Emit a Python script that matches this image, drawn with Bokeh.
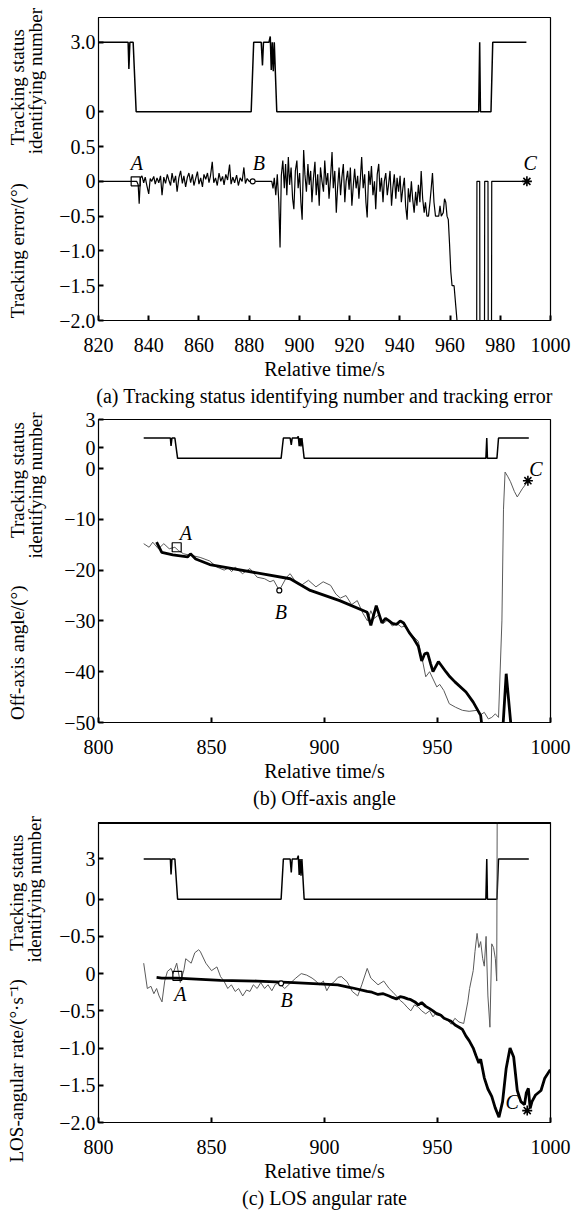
import math
from bokeh.plotting import figure
from bokeh.models import Range1d, FixedTicker, Label, Title, Span
from bokeh.layouts import column
from bokeh.embed import file_html
from bokeh.resources import INLINE

FONT = "Liberation Serif"
NB = "\u00a0"

# ---------------- data ----------------
status_t = [820, 831.8, 832.1, 832.5, 833.8, 835.0, 880.8, 881.8, 884.8, 885.3, 885.7,
            887.9, 888.4, 888.8, 889.2, 889.6, 890.0, 891.0, 971.4, 971.8, 972.1,
            976.3, 977.0, 990.4]
status_v = [3, 3, 1.85, 3, 3, 0, 0, 3, 3, 2.0, 3,
            3, 3.25, 1.8, 3, 1.75, 3, 0, 0, 3, 0,
            0, 3, 3]

err_t = [820, 834.5, 835.2, 835.8, 836.2, 836.7, 837.3, 838, 838.6, 839.2, 840, 840.6, 841.2,
         842, 842.6, 843.3, 844, 844.7, 845.3, 846, 846.7, 847.4, 848, 848.7, 849.3, 850,
         850.7, 851.3, 852, 852.7, 853.4, 854, 854.7, 855.4, 856, 856.7, 857.4, 858, 858.7,
         859.4, 860, 860.7, 861.4, 862, 862.7, 863.4, 864, 864.6, 865.3, 865.9, 866.6, 867.3,
         868, 868.7, 869.4, 870, 870.7, 871.4, 872.2, 872.8, 873.5, 874.2, 875, 875.7, 876.4,
         877.2, 877.9, 878.5, 879.2, 880, 881.4, 889,
         889.5, 890, 890.6, 891.2, 891.8, 892.3, 892.8, 893.4, 894, 894.5, 895, 895.6, 896.1,
         896.7, 897.3, 897.8, 898.4, 899, 899.5, 900.1, 900.6, 901.1, 901.7, 902.2, 902.8,
         903.4, 903.9, 904.5, 905, 905.6, 906.2, 906.7, 907.3, 907.9, 908.4, 909, 909.6,
         910.1, 910.7, 911.3, 911.8, 912.4, 913, 913.5, 914.1, 914.7, 915.2, 915.8, 916.4,
         916.9, 917.5, 918.1, 918.6, 919.2, 919.8, 920.3, 920.9, 921.5, 922, 922.6, 923.2,
         923.7, 924.3, 924.8, 925.4, 926, 926.5, 927, 927.6, 928.2, 928.7, 929.3, 929.9,
         930.4, 931, 931.6, 932.1, 932.7, 933.3, 933.8, 934.4, 935, 935.5, 936.1, 936.7,
         937.2, 937.8, 938.4, 938.9, 939.5, 940.1, 940.6, 941.2, 941.8, 942.3, 942.9, 943.4,
         944, 944.6, 945.1, 945.7, 946.3, 946.8, 947.4, 948, 948.5, 949.1, 949.7, 950.2,
         950.8, 951.4, 952, 952.5, 953, 953.6, 954.2, 955.5, 956, 956.5, 957.3, 957.8,
         958.3, 958.8, 959.3, 959.8, 960.3, 960.8, 961.6, 962.3, 963, 964,
         970.6, 970.7, 971.8, 971.9, 973.7, 973.8, 975.1, 975.2, 976.5, 976.6, 990.6]
err_v = [0, 0, 0.0, -0.05, -0.32, 0.05, 0.08, -0.02, 0.06, -0.05, -0.18, 0.04, 0.0,
         0.07, -0.04, 0.05, -0.02, 0.08, -0.2, 0.06, -0.03, 0.1, 0.02, -0.06, 0.12, -0.02,
         0.08, -0.15, 0.05, 0.15, -0.03, 0.08, -0.08, 0.06, 0.12, -0.02, 0.1, -0.06, 0.04,
         0.14, -0.04, 0.05, -0.08, 0.1, 0.03, 0.12, -0.02, 0.08, 0.28, -0.02, 0.05, -0.06,
         0.12, 0.0, 0.07, -0.05, 0.1, 0.02, 0.24, -0.04, 0.06, -0.02, 0.09, -0.06, 0.05,
         0.0, 0.2, -0.03, 0.04, 0.0, 0.0, 0.0,
         -0.1, 0.05, -0.2, 0.1, -0.3, -0.95, 0.08, 0.3, -0.1, 0.25, -0.2, 0.35, -0.05,
         0.2, -0.25, -0.4, 0.15, 0.3, -0.1, 0.12, -0.3, -0.55, 0.45, 0.1, -0.15,
         0.25, -0.05, 0.15, -0.3, 0.05, 0.28, -0.2, 0.1, -0.35, 0.2, 0.0, -0.15,
         0.3, -0.05, 0.12, -0.25, 0.05, 0.42, -0.1, 0.15, -0.45, -0.1, 0.2, -0.2,
         0.05, 0.25, -0.3, 0.0, 0.15, -0.12, 0.2, -0.35, -0.05, 0.18, -0.1, 0.08,
         -0.25, 0.05, 0.35, -0.1, 0.1, -0.3, -0.52, 0.15, -0.05, 0.22, -0.2, 0.0,
         -0.4, 0.1, 0.25, -0.15, 0.05, -0.3, 0.0, 0.12, -0.2, -0.05, 0.15, -0.35,
         -0.1, 0.1, -0.25, 0.05, -0.15, 0.08, -0.3, -0.1, 0.05, -0.35, -0.55, -0.1,
         -0.3, 0.0, -0.25, -0.45, -0.15, -0.35, -0.05, -0.3, 0.15, -0.25, -0.45, -0.3,
         -0.5, -0.5, -0.3, -0.1, 0.12, -0.3, -0.5, -0.5, -0.35, -0.5, -0.45, -0.25,
         -0.3, -0.5, -0.55, -0.9, -1.3, -1.5, -1.5, -1.8, -2.1, -2.4,
         -2.4, 0, 0, -2.4, -2.4, 0, 0, -2.4, -2.4, 0, 0]

off_thin_t = [820, 822.4, 824, 826.5, 828.9, 831.3, 833.8, 835.5, 837.7, 841, 845, 849.2,
              852.4, 855.6, 857.5, 858.9, 860.5, 863.7, 867, 870.2, 873.5, 875.9, 877.5,
              880, 883.2, 884.8, 887.2, 889.7, 892.9, 896.2, 899.4, 902.7, 905, 907, 909.5,
              912, 914.5, 917, 919, 920.5, 922, 924, 926, 928, 930, 932, 934, 936, 938,
              941.5, 943, 944.8, 946.5, 949.7, 951, 952.8, 955.2, 958, 961, 964, 967.5,
              969, 970.7, 972.5, 974, 975.6, 977, 978.5, 979.2, 979.9, 981, 982.3, 984,
              985.3, 987.5, 990]
off_thin_v = [-14.8, -15.5, -14.5, -15.8, -14.8, -15.8, -15.5, -16.2, -16.8, -17.1, -17.5, -18.2,
              -19.4, -20, -19.6, -20.3, -19.4, -20.7, -19.7, -21.4, -21.7, -22.3, -22,
              -24, -21.4, -20.7, -22.3, -23, -22, -23.3, -22.3, -23, -24.7, -25.5, -25,
              -26.8, -26, -28.5, -30, -28, -29.5, -28.8, -30.5, -29.8, -31, -30.5, -31.2, -31, -32.5,
              -34, -37, -41, -40, -43, -42.5, -43.7, -46.3, -47, -47.6, -47.8, -47.6,
              -48.5, -48, -49.3, -49, -48.3, -49, -30, -8, -0.7, -1.5, -2.6, -4.5,
              -5.6, -4, -2.5]

off_thick_t = [825.7, 828, 832.9, 839.4, 840.7, 843, 849.2, 884.8, 893.7, 906.7, 918.9,
               920.5, 922.9, 925.4, 927, 928.6, 930, 931.8, 933.5, 935, 937.5, 939.5,
               941.5, 943, 944.3, 945.6, 947, 948, 950.4, 953.7, 955.5, 957.7, 962.6,
               965.8, 969.1, 970, 978.8, 980.4, 982.8]
off_thick_v = [-14.5, -16.5, -17, -17.4, -16.8, -17.8, -18.9, -21.7, -24, -26, -28.3,
               -30.9, -27, -30.4, -29.5, -30, -30.5, -30.7, -30, -30.4, -32.3, -33.5,
               -35, -37.9, -36.5, -36.3, -38.5, -40, -38, -40, -41, -42, -44,
               -46, -48.6, -52, -52, -40.4, -52]

los_thin_t = [820, 821.6, 823.2, 824.5, 825.7, 826.8, 828.1, 829.3, 830.5, 832.1, 833,
              834.6, 836.2, 837.8, 838.6, 841, 842.6, 844.3, 845, 847.5, 850, 852.4, 854,
              855.5, 857.2, 858.8, 860.5, 862, 863.8, 865.5, 867, 868.5, 870.2, 871.8,
              873.5, 875, 876.7, 878.3, 880, 882.4, 884.8, 887.3, 889.7, 892.1, 894.5,
              896.2, 897.8, 899.5, 901, 902.5, 904.3, 906, 907.5, 910, 912.3, 914.7,
              916.5, 918.9, 920.5, 923.7, 926.2, 928.6, 930.3, 931.8, 933.5, 935.1,
              936.5, 938.2, 939.8, 941.5, 943, 944.8, 946.5, 948, 949.6, 951.3, 953,
              954.5, 956.1, 957.7, 959.5, 961.6, 963.4, 964.2, 965.8, 966.6, 967.5,
              968.3, 969.1, 970, 970.7, 971.5, 972.3, 973.2, 974, 974.8, 975.6, 976.2,
              976.5]
los_thin_v = [0.14, -0.2, -0.17, -0.27, -0.2, -0.3, -0.38, -0.1, 0.03, 0.07, 0.0,
              0.14, -0.12, 0.05, 0.2, 0.14, 0.28, 0.32, 0.3, 0.14, 0.04, 0.09, -0.04,
              -0.1, -0.2, -0.15, -0.24, -0.2, -0.3, -0.22, -0.24, -0.15, -0.2, -0.12,
              -0.2, -0.15, -0.23, -0.14, -0.13, -0.2, -0.13, -0.06, 0.0, -0.02, -0.06,
              -0.1, -0.15, -0.1, -0.23, -0.15, -0.11, -0.05, -0.04, -0.11, -0.24, -0.3,
              -0.15, 0.07, -0.06, -0.15, -0.1, -0.2, -0.25, -0.3, -0.36, -0.4,
              -0.45, -0.5, -0.42, -0.45, -0.5, -0.54, -0.5, -0.58, -0.52, -0.54, -0.6,
              -0.63, -0.68, -0.6, -0.65, -0.67, -0.38, -0.2, 0.04, 0.3, 0.54,
              0.35, 0.43, 0.2, 0.1, 0.5, -0.3, -0.72, 0.4, 0.35, 0.2, -0.1,
              3.0]

los_thick_t = [825.7, 828, 834.6, 854, 870.2, 886.4, 905.9, 912, 918.9, 921, 923.7, 926,
               928.6, 930, 931.8, 933.5, 935, 936.8, 938.2, 940, 941.5, 943, 944.8, 946.5,
               948, 949.7, 951.5, 952.9, 954.5, 956, 957.8, 959.5, 961, 962.6, 964, 965.8,
               967, 968.3, 969.1, 970.7, 972.3, 974, 975.5, 977.2, 978.8, 980.4, 982.1,
               983.7, 985.3, 986.9, 988.5, 989.3, 990.2, 991, 991.8, 993.4, 995.8, 997.4,
               999.9]
los_thick_v = [-0.05, -0.06, -0.06, -0.09, -0.1, -0.12, -0.15, -0.19, -0.24, -0.25, -0.28, -0.27,
               -0.3, -0.32, -0.34, -0.31, -0.32, -0.34, -0.35, -0.38, -0.42, -0.39, -0.44, -0.47,
               -0.5, -0.54, -0.56, -0.6, -0.62, -0.64, -0.69, -0.72, -0.75, -0.84, -0.9, -1.0,
               -1.1, -1.2, -1.15, -1.4, -1.55, -1.65, -1.8, -1.93, -1.72, -1.27, -1.0,
               -1.12, -1.57, -1.72, -1.76, -1.6, -1.54, -1.81, -1.72, -1.63, -1.57, -1.41,
               -1.29]

# axis ticks / labels
a_xticks = [820, 840, 860, 880, 900, 920, 940, 960, 980, 1000]
a_yticks = [-2.0, -1.5, -1.0, -0.5, 0.0, 0.5, 1.0, 2.0]
a_ylabels = ["\u22122.0", "\u22121.5", "\u22121.0", "\u22120.5", "0", "0.5", "0", "3.0"]
b_xticks = [800, 850, 900, 950, 1000]
b_yticks = [-50, -40, -30, -20, -10, 0, 4.1, 9.6]
b_ylabels = ["\u221250", "\u221240", "\u221230", "\u221220", "\u221210", "0", "0", "3"]
c_xticks = [800, 850, 900, 950, 1000]
c_yticks = [-2.0, -1.5, -1.0, -0.5, 0.0, 0.5, 1.0, 1.54]
c_ylabels = ["\u22122.0", "\u22121.5", "\u22121.0", "\u22120.5", "0", "\u22120.5", "0", "3"]

# rotated y-axis titles, padded with no-break spaces
a_ytitle = (NB * 2 + "Tracking error/(\u00b0)" + NB * 8 + "Tracking status" + NB * 4 + "\n"
            + NB * 37 + "identifying number")
b_ytitle = (NB * 2 + "Off-axis angle/(\u00b0)" + NB * 10 + "Tracking status" + NB * 2 + "\n"
            + NB * 36 + "identifying number")
c_ytitle = NB * 35 + "identifying number"
c_outer = "LOS-angular rate/(\u00b0\u00b7s\u207b\u00b9)" + NB * 6 + "Tracking status"

# markers: (x, y, label x, label y)
a_marks = {"A": (834.8, 0.0, 835.3, 0.27), "B": (881.4, 0.0, 883.9, 0.27), "C": (990.6, 0.0, 991.9, 0.27)}
b_marks = {"A": (834.6, -15.5, 838.6, -12.6), "B": (880.0, -24.0, 880.7, -28.3), "C": (990.0, -2.4, 993.6, 0.0)}
c_marks = {"A": (834.9, -0.03, 836.2, -0.28), "B": (880.8, -0.13, 883.2, -0.36), "C": (989.7, -1.84, 983.0, -1.73)}


def make_fig(height, top, bottom, xr, xticks, yr, yticks, ylabels, st_a, st_b, caption,
             ytitle, ytitle_standoff):
    p = figure(width=572, height=height, x_range=Range1d(*xr), y_range=Range1d(*yr),
               output_backend="svg", toolbar_location=None,
               min_border_left=98, min_border_right=22, min_border_top=top,
               min_border_bottom=bottom)
    p.extra_y_ranges = {"st": Range1d((yr[0] - st_a) / st_b, (yr[1] - st_a) / st_b)}
    p.xgrid.visible = False
    p.ygrid.visible = False
    p.outline_line_color = "black"
    p.outline_line_alpha = 1.0
    p.outline_line_width = 1.2
    p.background_fill_color = "white"
    p.border_fill_color = "white"
    for ax in (p.xaxis[0], p.yaxis[0]):
        ax.major_tick_in = 5
        ax.major_tick_out = 0
        ax.major_tick_line_width = 2
        ax.minor_tick_line_color = None
        ax.axis_line_color = "black"
        ax.major_label_text_font = FONT
        ax.major_label_text_font_size = "20px"
        ax.major_label_text_color = "black"
    p.xaxis.ticker = FixedTicker(ticks=xticks)
    p.yaxis.ticker = FixedTicker(ticks=yticks)
    p.yaxis.major_label_overrides = dict(zip(yticks, ylabels))
    p.yaxis.major_label_standoff = 3
    p.yaxis.axis_label = ytitle
    p.yaxis.axis_label_standoff = ytitle_standoff
    p.yaxis.axis_label_text_font = FONT
    p.yaxis.axis_label_text_font_size = "19px"
    p.yaxis.axis_label_text_font_style = "normal"
    p.yaxis.axis_label_text_color = "black"
    p.yaxis.axis_label_text_line_height = 0.85
    p.xaxis.major_label_standoff = 17
    p.xaxis.axis_label = "Relative time/s"
    p.xaxis.axis_label_standoff = 3
    p.xaxis.axis_label_text_font = FONT
    p.xaxis.axis_label_text_font_size = "20px"
    p.xaxis.axis_label_text_font_style = "normal"
    p.xaxis.axis_label_text_color = "black"
    t = Title(text=caption, align="center", text_font=FONT, text_font_size="20px",
              text_font_style="normal", text_color="black", standoff=0, offset=0)
    p.add_layout(t, "below")
    # status line
    p.line(status_t, status_v, y_range_name="st", line_color="black", line_width=1.5)
    return p


def add_marks(p, marks):
    ax_, ay_, alx, aly = marks["A"]
    bx_, by_, blx, bly = marks["B"]
    cx_, cy_, clx, cly = marks["C"]
    p.scatter([ax_], [ay_], marker="square", size=9, line_color="black", fill_color=None, line_width=1.2)
    p.scatter([bx_], [by_], marker="circle", size=5, line_color="black", fill_color="white", line_width=1.2)
    p.scatter([cx_], [cy_], marker="asterisk", size=10, line_color="black", line_width=1.6)
    for txt, lx, ly in (("A", alx, aly), ("B", blx, bly), ("C", clx, cly)):
        p.add_layout(Label(x=lx, y=ly, text=txt, text_align="center", text_baseline="middle",
                           text_font=FONT, text_font_size="20px", text_font_style="italic",
                           text_color="black"))


pa = make_fig(410, 17, 90, (820, 1000), a_xticks, (-2.0, 2.355), a_yticks, a_ylabels, 1.0, 1 / 3,
              "(a) Tracking status identifying number and tracking error", a_ytitle, 10)
pa.line(err_t, err_v, line_color="black", line_width=1.2)
add_marks(pa, a_marks)

pb = make_fig(402, 9, 90, (800, 1000), b_xticks, (-50, 9.65), b_yticks, b_ylabels, 2.0, 4 / 3,
              "(b) Off-axis angle", b_ytitle, 15)
pb.line(off_thin_t, off_thin_v, line_color="#5a5a5a", line_width=1)
pb.line(off_thick_t, off_thick_v, line_color="black", line_width=2.8)
add_marks(pb, b_marks)

pc = make_fig(400, 10, 90, (800, 1000), c_xticks, (-2.0, 2.03), c_yticks, c_ylabels, 1.0, 0.18,
              "(c) LOS angular rate", c_ytitle, 11)
pc.add_layout(Title(text=c_outer, align="left", offset=-40, standoff=-10, vertical_align="bottom",
                    text_font=FONT, text_font_size="19px", text_font_style="normal",
                    text_color="black", text_line_height=0.8), "left")
pc.line(los_thin_t, los_thin_v, line_color="#5a5a5a", line_width=1)
pc.line(los_thick_t, los_thick_v, line_color="black", line_width=2.8)
pc.add_layout(Span(location=2.03, dimension="width", line_color="black", line_width=3))
add_marks(pc, c_marks)

layout = column(pa, pb, pc, spacing=0)
open("out.html", "w").write(file_html(layout, INLINE))
